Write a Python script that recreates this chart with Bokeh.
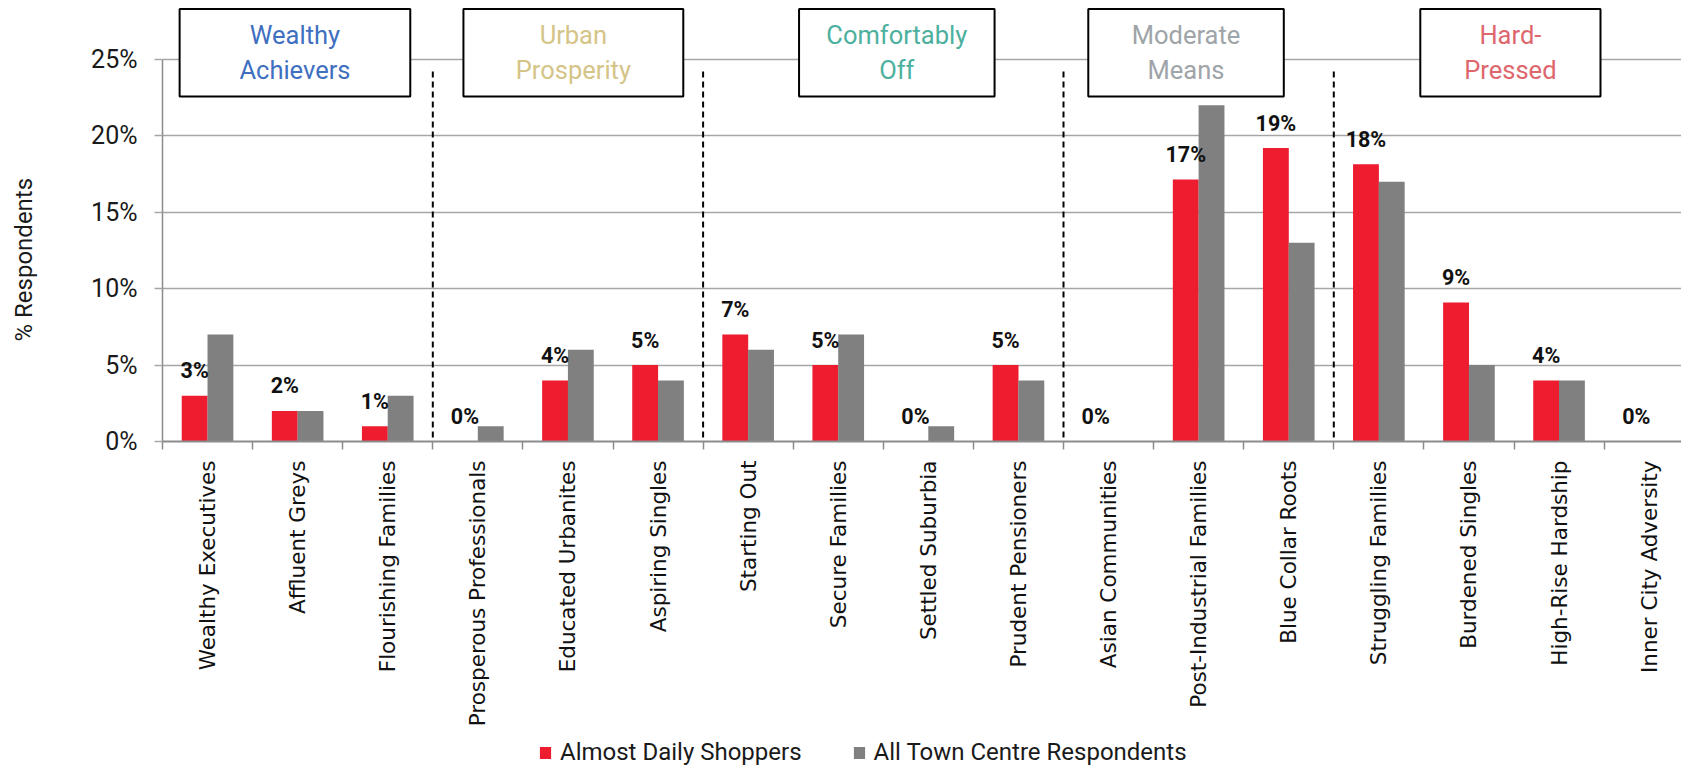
from bokeh.plotting import figure
from bokeh.layouts import column
from bokeh.models import (ColumnDataSource, FixedTicker, PrintfTickFormatter,
                          LabelSet, Legend, LegendItem, Range1d)
from bokeh.core.properties import value
from bokeh.embed import file_html
from bokeh.resources import INLINE
import math

# ---------------- data ----------------
categories = ["Wealthy Executives", "Affluent Greys", "Flourishing Families",
              "Prosperous Professionals", "Educated Urbanites", "Aspiring Singles",
              "Starting Out", "Secure Families", "Settled Suburbia", "Prudent Pensioners",
              "Asian Communities", "Post-Industrial Families", "Blue Collar Roots",
              "Struggling Families", "Burdened Singles", "High-Rise Hardship",
              "Inner City Adversity"]
daily_shoppers = [3, 2, 1, 0, 4, 5, 7, 5, 0, 5, 0, 17.15, 19.2, 18.15, 9.1, 4, 0]
all_respondents = [7, 2, 3, 1, 6, 4, 6, 7, 1, 4, 0, 22, 13, 17, 5, 4, 0]
group_names = ["Wealthy\nAchievers", "Urban\nProsperity", "Comfortably\nOff",
               "Moderate\nMeans", "Hard-\nPressed"]
group_sizes = [3, 3, 4, 3, 4]
y_ticks = [0, 5, 10, 15, 20, 25]
series_names = ["Almost Daily Shoppers", "All Town Centre Respondents"]
y_title = "% Respondents"

# ---------------- style ----------------
RED = "#ED1C2E"
GREY = "#808080"
GRID = "#A6A6A6"
group_colors = ["#3F6FBF", "#D5C487", "#4DB09E", "#9EA4A8", "#DE666D"]
box_half_widths = [1.28, 1.22, 1.085, 1.085, 1.0]
box_shift = [-0.03, 0.06, 0.15, -0.14, -0.04]
TITLE_PAD = "\u00a0" * 13      # shifts the centred axis title down along the axis

n = len(categories)
W = 1681
H = 733
H_LEG = 767 - H
LEFT = 162
CAT_PX = 90.1
PX_PER_PCT = 15.27
AXIS_Y = 440.7                      # page y of the 0% line
x_end = (W - LEFT) / CAT_PX
y_end = AXIS_Y / PX_PER_PCT

p = figure(width=W, height=H, output_backend="svg", toolbar_location=None,
           x_range=Range1d(0, x_end), y_range=Range1d(0, y_end),
           min_border_left=LEFT, min_border_right=0, min_border_top=0,
           min_border_bottom=int(round(H - AXIS_Y)))
p.outline_line_color = None
p.background_fill_color = "white"
p.border_fill_color = "white"

# grid
p.xgrid.visible = False
p.ygrid.ticker = FixedTicker(ticks=y_ticks)
p.ygrid.grid_line_color = GRID
p.ygrid.grid_line_width = 1.5

# y axis
p.yaxis.ticker = FixedTicker(ticks=y_ticks)
p.yaxis.formatter = PrintfTickFormatter(format="%d%%")
p.yaxis.bounds = (0, 25)
p.yaxis.axis_line_color = "#8C8C8C"
p.yaxis.axis_line_width = 1.5
p.yaxis.major_tick_line_color = GRID
p.yaxis.major_tick_line_width = 1.5
p.yaxis.major_tick_out = 8
p.yaxis.major_tick_in = 0
p.yaxis.minor_tick_line_color = None
p.yaxis.major_label_standoff = 17
p.yaxis.major_label_text_font = "Roboto"
p.yaxis.major_label_text_font_size = "25px"
p.yaxis.major_label_text_color = "#1a1a1a"
p.yaxis.axis_label = y_title + TITLE_PAD
p.yaxis.axis_label_standoff = 50
p.yaxis.axis_label_text_font = "Roboto"
p.yaxis.axis_label_text_font_size = "24px"
p.yaxis.axis_label_text_font_style = "normal"
p.yaxis.axis_label_text_color = "#1a1a1a"

# x axis: labels at centres, ticks at boundaries
centers = [i + 0.5 for i in range(n)]
p.xaxis.ticker = FixedTicker(ticks=centers, minor_ticks=list(range(n + 1)))
p.xaxis.major_label_overrides = {c: name for c, name in zip(centers, categories)}
p.xaxis.major_label_orientation = math.pi / 2
p.xaxis.major_tick_out = 0
p.xaxis.major_tick_in = 0
p.xaxis.minor_tick_out = 8
p.xaxis.minor_tick_in = 0
p.xaxis.minor_tick_line_color = "#8C8C8C"
p.xaxis.minor_tick_line_width = 1.5
p.xaxis.axis_line_color = "#8C8C8C"
p.xaxis.axis_line_width = 2
p.xaxis.major_label_standoff = 11
p.xaxis.major_label_text_font = "DejaVu Sans"
p.xaxis.major_label_text_font_size = "21.5px"
p.xaxis.major_label_text_color = "#111111"

# bars
off = 0.143
bw = 0.287
src = ColumnDataSource(dict(
    x_red=[c - off for c in centers], x_grey=[c + off for c in centers],
    red=daily_shoppers, grey=all_respondents,
    lab=[f"{round(v)}%" for v in daily_shoppers]))
r_red = p.vbar(x="x_red", top="red", width=bw, source=src, fill_color=RED, line_color=None)
r_grey = p.vbar(x="x_grey", top="grey", width=bw, source=src, fill_color=GREY, line_color=None)

labels = LabelSet(x="x_red", y="red", text="lab", source=src, y_offset=17.5,
                  text_align="center", text_baseline="alphabetic",
                  text_font=value("Roboto"), text_font_style="bold",
                  text_font_size="21.5px", text_color="#111111")
p.add_layout(labels)

# group separators
bounds = []
acc = 0
for s in group_sizes:
    acc += s
    bounds.append(acc)
bounds = bounds[:-1]
sep_top = 25 - 12 / PX_PER_PCT
p.segment(x0=bounds, y0=[sep_top] * len(bounds), x1=bounds, y1=[0] * len(bounds),
          line_color="black", line_width=2, line_dash="6 4")

# group boxes
starts = [0] + bounds
mids = [s + g / 2 for s, g in zip(starts, group_sizes)]
bx = [m + d for m, d in zip(mids, box_shift)]
box_top = 25 + (59 - 8.5) / PX_PER_PCT
box_bottom = 25 - 37 / PX_PER_PCT
p.quad(left=[c - h for c, h in zip(bx, box_half_widths)],
       right=[c + h for c, h in zip(bx, box_half_widths)],
       top=[box_top] * 5, bottom=[box_bottom] * 5,
       fill_color="white", line_color="black", line_width=2)
p.text(x=bx, y=[(box_top + box_bottom) / 2] * 5, text=group_names,
       text_color=group_colors, text_align="center", text_baseline="middle",
       text_font=value("Roboto"), text_font_size="25.5px", text_line_height=1.18)

# ---------------- legend strip ----------------
q = figure(width=W, height=H_LEG, output_backend="svg", toolbar_location=None,
           x_range=Range1d(0, 1), y_range=Range1d(0, 1),
           min_border=0, x_axis_type=None, y_axis_type=None)
q.outline_line_color = None
q.xgrid.visible = False
q.ygrid.visible = False
dummy = ColumnDataSource(dict(x=[-10], top=[0]))
l_red = q.vbar(x="x", top="top", width=0.1, source=dummy, fill_color=RED, line_color=None)
l_grey = q.vbar(x="x", top="top", width=0.1, source=dummy, fill_color=GREY, line_color=None)
legend = Legend(items=[LegendItem(label=series_names[0], renderers=[l_red], index=0),
                       LegendItem(label=series_names[1], renderers=[l_grey], index=0)],
                orientation="horizontal", location=(538 - LEFT, 1),
                glyph_width=14, glyph_height=15, label_standoff=8, spacing=50,
                padding=0, margin=0, border_line_color=None,
                background_fill_alpha=0,
                label_text_font="Roboto", label_text_font_size="24px",
                label_text_color="#1a1a1a", label_height=24)
q.add_layout(legend, "center")

layout = column(p, q, spacing=0)
open("out.html", "w").write(file_html(layout, INLINE))
